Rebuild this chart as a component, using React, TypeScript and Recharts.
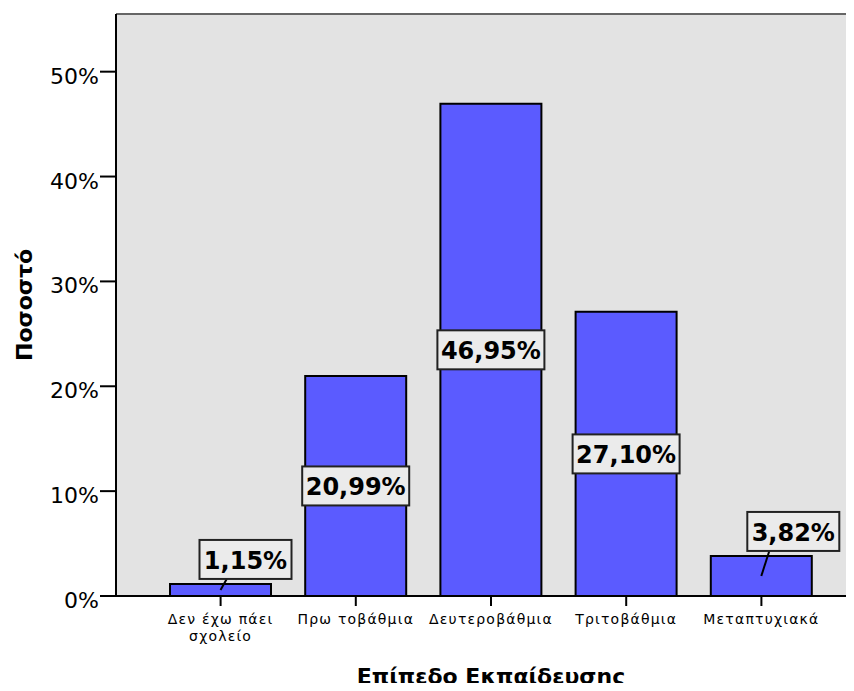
import React from 'react'
import { BarChart, Bar, XAxis, YAxis, CartesianGrid, ReferenceLine, LabelList } from 'recharts'

const categories = ['Δεν  έχω  πάει\nσχολείο', 'Πρω τοβάθμια', 'Δευτεροβάθμια', 'Τριτοβάθμια', 'Μεταπτυχιακά']
const percentages = [1.15, 20.99, 46.95, 27.1, 3.82]
const yTicks = [0, 10, 20, 30, 40, 50]
const yMax = 55.5

const data = categories.map((name, i) => ({ name, value: percentages[i] }))

const FONT = '"DejaVu Sans", Verdana, sans-serif'

const formatPct = (v: number) => `${v.toFixed(2).replace('.', ',')}%`

function CategoryTick({ x, y, payload }: any) {
    const lines = String(payload.value).split('\n')
    return (
        <g transform={`translate(${x},${y})`}>
            {lines.map((line, i) => (
                <text
                    key={i}
                    x={0}
                    y={16 + i * 17}
                    textAnchor="middle"
                    fontFamily={FONT}
                    fontSize={14}
                    letterSpacing={1.2}
                    fill="#000"
                >
                    {line}
                </text>
            ))}
        </g>
    )
}

function PercentTick({ x, y, payload }: any) {
    return (
        <text x={x} y={y + 12} textAnchor="end" fontFamily={FONT} fontSize={22} fill="#000">
            {`${payload.value}%`}
        </text>
    )
}

// small bars get their box lifted above, with a short pointer line
function ValueLabel(props: any) {
    const { x, y, width, height, value } = props
    const text = formatPct(value)
    const boxW = text.length === 5 ? 92 : 107
    const boxH = 39
    const cx = x + width / 2
    if (height < 60) {
        const shift = value < 2 ? 25 : 32
        const bx = cx + shift - boxW / 2
        const by = y - 5 - boxH
        return (
            <g>
                <line x1={cx + shift / 4} y1={by + boxH} x2={cx} y2={y + height / 2} stroke="#000" strokeWidth={2} />
                <rect x={bx} y={by} width={boxW} height={boxH} fill="#ebebeb" stroke="#222" strokeWidth={2} />
                <text x={bx + boxW / 2} y={by + 29} textAnchor="middle" fontFamily={FONT} fontWeight="bold" fontSize={24} fill="#000">
                    {text}
                </text>
            </g>
        )
    }
    const cy = y + height / 2
    return (
        <g>
            <rect x={cx - boxW / 2} y={cy - boxH / 2} width={boxW} height={boxH} fill="#ebebeb" stroke="#222" strokeWidth={2} />
            <text x={cx} y={cy + 9} textAnchor="middle" fontFamily={FONT} fontWeight="bold" fontSize={24} fill="#000">
                {text}
            </text>
        </g>
    )
}

function XTitle({ viewBox }: any) {
    return (
        <text x={viewBox.x + viewBox.width / 2} y={684} textAnchor="middle" fontFamily={FONT} fontWeight="bold" fontSize={22} fill="#000">
            Επίπεδο Εκπαίδευσης
        </text>
    )
}

function YTitle({ viewBox }: any) {
    const cx = 24
    const cy = viewBox.y + viewBox.height / 2
    return (
        <text
            x={cx}
            y={cy}
            transform={`rotate(-90 ${cx} ${cy})`}
            textAnchor="middle"
            dominantBaseline="central"
            fontFamily={FONT}
            fontWeight="bold"
            fontSize={22}
            fill="#000"
        >
            Ποσοστό
        </text>
    )
}

export default function App() {
    return (
        <div style={{ width: 854, height: 691, overflow: 'hidden', margin: -8, position: 'relative', background: '#fff' }}>
            <BarChart
                width={866}
                height={691}
                data={data}
                margin={{ top: 14, right: 0, left: 0, bottom: 0 }}
                barCategoryGap={0}
            >
                <CartesianGrid fill="#e3e3e3" horizontal={false} vertical={false} />
                <ReferenceLine y={yMax} stroke="#666" strokeWidth={2} />
                <XAxis
                    dataKey="name"
                    height={95}
                    interval={0}
                    padding={{ left: 37, right: 37 }}
                    stroke="#000"
                    strokeWidth={2}
                    tickSize={10}
                    tickMargin={2}
                    tickLine={{ stroke: '#000', strokeWidth: 2 }}
                    tick={<CategoryTick />}
                    label={{ content: <XTitle /> }}
                />
                <YAxis
                    width={116}
                    domain={[0, yMax]}
                    ticks={yTicks}
                    allowDataOverflow
                    stroke="#000"
                    strokeWidth={2}
                    tickSize={16}
                    tickMargin={1}
                    tickLine={{ stroke: '#000', strokeWidth: 2 }}
                    tick={<PercentTick />}
                    label={{ content: <YTitle /> }}
                />
                <Bar dataKey="value" fill="#5b5bff" stroke="#000" strokeWidth={2} barSize={101} isAnimationActive={false}>
                    <LabelList dataKey="value" content={<ValueLabel />} />
                </Bar>
            </BarChart>
        </div>
    )
}
